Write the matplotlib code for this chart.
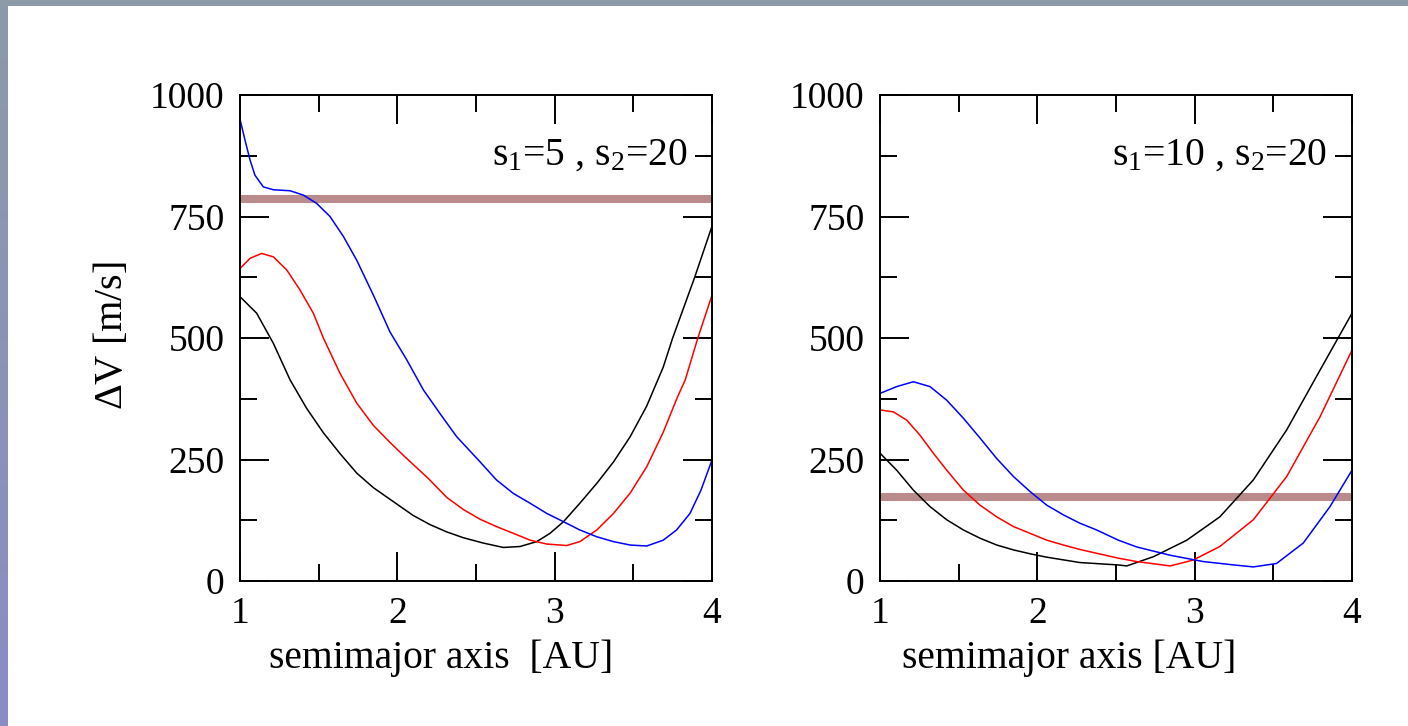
import numpy as np
import matplotlib
matplotlib.use("Agg")
import matplotlib.pyplot as plt
from matplotlib.ticker import MultipleLocator
from matplotlib.colors import LinearSegmentedColormap

plt.rcParams['font.family'] = ['Liberation Serif', 'DejaVu Serif']
plt.rcParams['mathtext.default'] = 'regular'

# left panel: s1=5, s2=20
a_blue_l = [1.0, 1.032, 1.064, 1.095, 1.148, 1.212, 1.318, 1.403, 1.487, 1.572, 1.657, 1.742, 1.848, 1.954, 2.06, 2.166,
	2.27, 2.377, 2.515, 2.63, 2.738, 2.844, 2.95, 3.056, 3.16, 3.268, 3.374, 3.48, 3.585, 3.69, 3.775, 3.86, 3.93, 4.0]
v_blue_l = [950, 907, 866, 835, 811, 805, 803, 794, 777, 750, 709, 660, 588, 512, 455, 393,
	345, 297, 249, 208, 180, 160, 139, 122, 105, 91, 81, 74, 72, 84, 105, 139, 187, 249]
a_red_l = [1.0, 1.064, 1.138, 1.212, 1.297, 1.381, 1.466, 1.53, 1.636, 1.742, 1.848, 1.954, 2.04, 2.2, 2.314, 2.42,
	2.526, 2.63, 2.738, 2.844, 2.95, 3.077, 3.16, 3.268, 3.374, 3.48, 3.585, 3.69, 3.776, 3.83, 3.91, 4.0]
v_red_l = [643, 664, 674, 667, 640, 599, 551, 500, 427, 366, 320, 285, 258, 210, 172, 147,
	127, 112, 98, 84, 76, 73, 81, 105, 139, 181, 235, 306, 375, 414, 500, 588]
a_blk_l = [1.0, 1.106, 1.212, 1.318, 1.424, 1.53, 1.636, 1.742, 1.848, 1.954, 2.1, 2.208, 2.314, 2.42, 2.547, 2.674,
	2.78, 2.886, 2.97, 3.056, 3.16, 3.268, 3.374, 3.48, 3.585, 3.69, 3.75, 3.89, 4.0]
v_blk_l = [585, 551, 489, 414, 355, 305, 262, 222, 192, 168, 135, 116, 101, 89, 78, 69,
	71, 81, 98, 122, 160, 201, 245, 297, 360, 440, 500, 625, 730]
band_l = 787

# right panel: s1=10, s2=20
a_blue_r = [1.0, 1.106, 1.212, 1.318, 1.424, 1.53, 1.636, 1.742, 1.848, 1.954, 2.06, 2.166, 2.27, 2.377, 2.515, 2.632,
	2.844, 3.055, 3.25, 3.373, 3.52, 3.69, 3.86, 4.0]
v_blue_r = [386, 400, 410, 400, 372, 335, 294, 252, 215, 184, 156, 136, 119, 105, 84, 70,
	53, 40, 33, 29, 36, 78, 153, 228]
a_red_r = [1.0, 1.085, 1.17, 1.254, 1.339, 1.424, 1.53, 1.636, 1.742, 1.848, 1.954, 2.06, 2.166, 2.27, 2.377, 2.515,
	2.632, 2.844, 2.99, 3.16, 3.373, 3.585, 3.797, 4.0]
v_red_r = [352, 348, 331, 300, 263, 228, 187, 156, 132, 112, 98, 84, 74, 65, 57, 47,
	40, 31, 43, 71, 126, 215, 338, 475]
a_blk_r = [1.0, 1.106, 1.212, 1.318, 1.424, 1.53, 1.636, 1.742, 1.848, 1.954, 2.06, 2.27, 2.515, 2.568, 2.738, 2.95,
	3.16, 3.373, 3.585, 3.797, 4.0]
v_blk_r = [263, 228, 187, 153, 126, 105, 88, 74, 64, 56, 49, 38, 33, 31, 50, 84,
	132, 208, 311, 434, 551]
band_r = 172

panels = [
	(a_blue_l, v_blue_l, a_red_l, v_red_l, a_blk_l, v_blk_l, band_l, r"s$_1$=5 , s$_2$=20", "semimajor axis  [AU]", 0.426),
	(a_blue_r, v_blue_r, a_red_r, v_red_r, a_blk_r, v_blk_r, band_r, r"s$_1$=10 , s$_2$=20", "semimajor axis [AU]", 0.40),
]

fig = plt.figure(figsize=(14.08, 7.26), dpi=100)
fig.patch.set_facecolor("white")

# slide border: grey top strip, gradient left strip
top = fig.add_axes([0, 1-6/726, 1, 6/726])
top.set_axis_off()
top.add_patch(plt.Rectangle((0, 0), 1, 1, color="#8d9aa8", transform=top.transAxes))
left = fig.add_axes([0, 0, 8/1408, 1])
cmap = LinearSegmentedColormap.from_list("edge", ["#8a8cc6", "#8d9aa8"])
left.imshow(np.linspace(0, 1, 100).reshape(-1, 1), aspect="auto", cmap=cmap, origin="lower")
left.set_axis_off()

lefts = [240/1408, 880/1408]
for i, p in enumerate(panels):
	ab, vb, ar, vr, ak, vk, band, note, xlab, lx = p
	ax = fig.add_axes([lefts[i], 145/726, 472/1408, 486/726])
	ax.axhline(band, color="#b98b8b", lw=5.8, zorder=1)
	ax.plot(ak, vk, color="black", lw=1.1, zorder=2)
	ax.plot(ar, vr, color="#ff0000", lw=1.1, zorder=2)
	ax.plot(ab, vb, color="#0000ff", lw=1.1, zorder=2)
	ax.set_xlim(1, 4)
	ax.set_ylim(0, 1000)
	ax.xaxis.set_major_locator(MultipleLocator(1))
	ax.xaxis.set_minor_locator(MultipleLocator(0.5))
	ax.yaxis.set_major_locator(MultipleLocator(250))
	ax.yaxis.set_minor_locator(MultipleLocator(125))
	ax.tick_params(which="both", direction="in", top=True, right=True, width=1.4, labelsize=27)
	ax.tick_params(which="major", length=21, pad=11)
	ax.tick_params(which="minor", length=12)
	for s in ax.spines.values():
		s.set_linewidth(1.4)
	ax.text(0.947, 0.877, note, transform=ax.transAxes, ha="right", va="center", fontsize=28.5)
	ax.set_xlabel(xlab, fontsize=28.5)
	ax.xaxis.set_label_coords(lx, -0.12)
	if i == 0:
		ax.set_ylabel(r"$\Delta$V [m/s]", fontsize=29)
		ax.yaxis.set_label_coords(-0.23, 0.506)

plt.savefig("out.png", dpi=100, facecolor="white")
